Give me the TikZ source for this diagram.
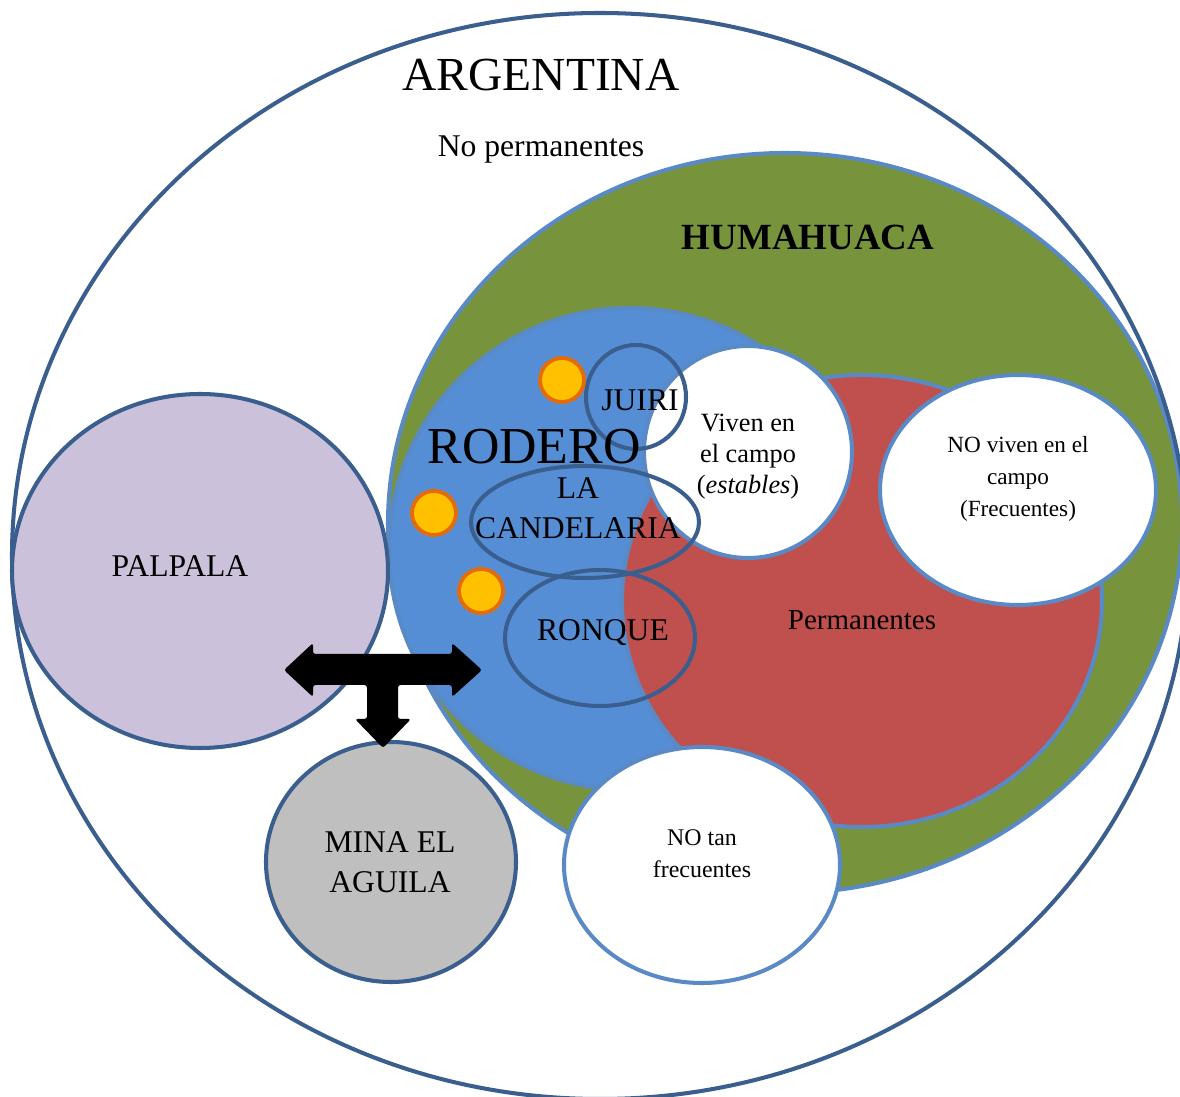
\documentclass[tikz,border=0pt]{standalone}
\usepackage{fontspec}
\setmainfont{Liberation Serif}
\definecolor{darkline}{HTML}{3A5E8E}
\definecolor{lightline}{HTML}{5A8AC6}
\definecolor{hgreen}{HTML}{77933C}
\definecolor{rblue}{HTML}{558ED5}
\definecolor{pred}{HTML}{C0504D}
\definecolor{lav}{HTML}{CCC1DA}
\definecolor{mgray}{HTML}{BFBFBF}
\definecolor{dotfill}{HTML}{FFC000}
\definecolor{dotline}{HTML}{E36C09}

\newcommand{\fs}[1]{\fontsize{#1}{#1}\selectfont}

\begin{document}
\begin{tikzpicture}[x=0.02cm, y=-0.02cm,
  region/.style={line width=2.3pt, draw=darkline},
  zone/.style={line width=2.3pt, draw=lightline},
  hole/.style={line width=2.3pt, draw=lightline, fill=white},
  town/.style={line width=2.3pt, draw=darkline},
  site/.style={line width=2.2pt, draw=dotline, fill=dotfill},
  label/.style={align=center, inner sep=0pt, text=black}]
  \fill[white] (0,0) rectangle (1180,1097);
  \clip (0,0) rectangle (1180,1097);

  % Humahuaca and Argentina
  \draw[zone, fill=hgreen] (785,523) ellipse (397 and 370);
  \draw[region] (600,556) ellipse (588 and 543);
  % Rodero and permanentes
  \draw[zone, fill=rblue] (630,549) ellipse (241 and 241);
  \draw[zone, fill=pred] (862,601) ellipse (240 and 226);
  \draw[hole] (748,452) ellipse (104 and 106);
  \draw[hole] (1018,490) ellipse (138 and 115);
  \draw[hole] (702,865) ellipse (138 and 118);

  % parajes
  \draw[town] (636,397) ellipse (50 and 52);
  \draw[town] (585,522) ellipse (114 and 56);
  \draw[town] (600,638) ellipse (95 and 68);
  \draw[site] (562,380) circle (22);
  \draw[site] (434,513) circle (22);
  \draw[site] (481,591) circle (22);

  \draw[region, fill=lav] (200,571) ellipse (188 and 177);
  \draw[region, fill=mgray] (391,862) ellipse (125 and 120);

  % flechas
  \fill[black, rounded corners=1.5pt] (284,670) -- (313,643) -- (313,654) -- (452,654)
    -- (452,643) -- (482,670) -- (452,697) -- (452,685) -- (398,685) -- (398,719)
    -- (411,719) -- (383,748) -- (355,719) -- (367,719) -- (367,685) -- (313,685)
    -- (313,697) -- cycle;

  \node[label, font=\fs{27}] (arg) at (541,75) {ARGENTINA};
  \node[label, font=\fs{18}] (noperm) at (541,150) {No permanentes};
  \node[label, font=\fs{21}\bfseries] (huma) at (808,237) {HUMAHUACA};
  \node[label, font=\fs{29.5}] (rod) at (534,447) {RODERO};
  \node[label, font=\fs{18}] (juiri) at (640,400) {JUIRI};
  \node[label, font=\fontsize{18}{23}\selectfont] (cand) at (578,508) {LA\\CANDELARIA};
  \node[label, font=\fs{18}] (ronq) at (603,633) {RONQUE};
  \node[label, font=\fontsize{15}{17.6}\selectfont] (viven) at (748,457) {Viven en\\el campo\\(\textit{estables})};
  \node[label, font=\fontsize{13.2}{18}\selectfont] (noviv) at (1018,479) {NO viven en el\\campo\\(Frecuentes)};
  \node[label, font=\fs{16.5}] (perm) at (862,620) {Permanentes};
  \node[label, font=\fontsize{13.6}{18}\selectfont] (notan) at (702,854) {NO tan\\frecuentes};
  \node[label, font=\fs{18}] (palp) at (180,566) {PALPALA};
  \node[label, font=\fontsize{18}{23}\selectfont] (mina) at (390,862) {MINA EL\\AGUILA};
\end{tikzpicture}
\end{document}
